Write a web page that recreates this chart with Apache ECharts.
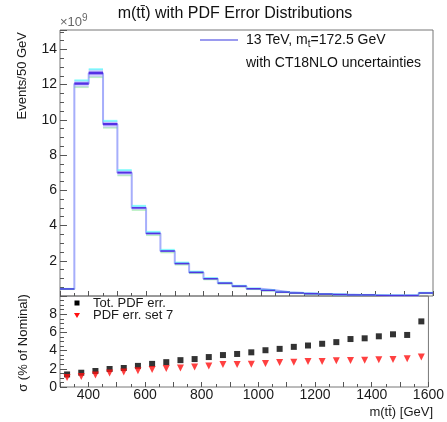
<!DOCTYPE html>
<html>
<head>
<meta charset="utf-8">
<script src="https://cdn.jsdelivr.net/npm/echarts@6.0.0/dist/echarts.min.js"></script>
<style>
  body { margin: 0; background: #fff; }
  #main { width: 447px; height: 422px; }
</style>
</head>
<body>
<div id="main"></div>
<script type="text/javascript">
// bin edges of m(tt) in GeV (50 GeV bins)
var binEdges = [300, 350, 400, 450, 500, 550, 600, 650, 700, 750, 800, 850, 900, 950,
                1000, 1050, 1100, 1150, 1200, 1250, 1300, 1350, 1400, 1450, 1500, 1550, 1600];
var binCenters = [325, 375, 425, 475, 525, 575, 625, 675, 725, 775, 825, 875, 925, 975,
                  1025, 1075, 1125, 1175, 1225, 1275, 1325, 1375, 1425, 1475, 1525, 1575];
// nominal events / 50 GeV, in units of 1e9
var nominal = [0.4, 12.05, 12.65, 9.75, 7.0, 5.0, 3.55, 2.55, 1.84, 1.34, 0.98, 0.73, 0.56, 0.41,
               0.32, 0.22, 0.17, 0.13, 0.11, 0.08, 0.06, 0.06, 0.03, 0.03, 0.03, 0.17];
// sigma in % of nominal
var totPdfErr = [1.38, 1.57, 1.76, 1.98, 2.09, 2.32, 2.54, 2.73, 2.95, 3.07, 3.29, 3.51, 3.63,
                 3.81, 4.04, 4.19, 4.41, 4.56, 4.75, 4.93, 5.27, 5.35, 5.57, 5.79, 5.72, 7.21];
var pdfErrSet7 = [1.05, 1.16, 1.31, 1.53, 1.64, 1.79, 1.91, 2.02, 2.09, 2.2, 2.32, 2.47, 2.47,
                  2.5, 2.58, 2.69, 2.73, 2.8, 2.8, 2.88, 2.92, 2.95, 2.99, 3.03, 3.1, 3.29];
var xLabels = [400, 600, 800, 1000, 1200, 1400, 1600];

var FONT = 'Liberation Sans, Arial, Helvetica, sans-serif';

var myChart = echarts.init(document.getElementById('main'), null, { renderer: 'canvas' });

// step outline of the nominal histogram
var stepData = binEdges.map(function (e, i) {
    return [e, nominal[Math.min(i, nominal.length - 1)]];
});
// per bin: low edge, high edge, nominal, sigma%
var bandData = nominal.map(function (v, i) {
    return [binEdges[i], binEdges[i + 1], v, totPdfErr[i]];
});

function renderBand(params, api) {
    var x0 = api.coord([api.value(0), 0])[0];
    var x1 = api.coord([api.value(1), 0])[0];
    var v = api.value(2), s = api.value(3) / 100;
    var yUp = api.coord([0, v * (1 + s)])[1];
    var yLo = api.coord([0, v * (1 - s)])[1];
    var yIn1 = api.coord([0, v * (1 + 0.4 * s)])[1];
    var yIn2 = api.coord([0, v * (1 - 0.3 * s)])[1];
    var w = x1 - x0;
    var hIn = Math.max(yIn2 - yIn1, 1.5);
    return {
        type: 'group',
        children: [
            { type: 'rect', shape: { x: x0, y: yUp, width: w, height: Math.max(yLo - yUp, 1) },
              style: { fill: 'rgba(160,150,255,0.45)' } },
            { type: 'rect', shape: { x: x0, y: yUp - 1, width: w, height: 2 },
              style: { fill: 'rgba(80,250,250,0.65)' } },
            { type: 'rect', shape: { x: x0, y: yLo - 0.5, width: w, height: 1.5 },
              style: { fill: 'rgba(110,225,130,0.45)' } },
            { type: 'rect', shape: { x: x0, y: (yIn1 + yIn2) / 2 - hIn / 2, width: w, height: hIn },
              style: { fill: 'rgba(75,35,225,0.9)' } }
        ]
    };
}

function txt(x, y, text, size, opts) {
    var st = { text: text, fontSize: size, fontFamily: FONT, fill: '#1a1a1a',
               align: 'left', verticalAlign: 'middle' };
    for (var k in (opts || {})) st[k] = opts[k];
    return st;
}

var tickStyle = { color: '#555', width: 1 };

myChart.setOption({
    animation: false,
    backgroundColor: '#fff',
    textStyle: { fontFamily: FONT },
    grid: [
        { left: 60, right: 14, top: 30, height: 266, show: true, borderColor: '#777', borderWidth: 1 },
        { left: 60, right: 14, top: 296, height: 91, show: true, borderColor: '#777', borderWidth: 1 }
    ],
    xAxis: [
        {
            type: 'value', gridIndex: 0, min: 300, max: 1600, interval: 100,
            axisLine: { show: false },
            axisTick: { inside: true, length: 5, lineStyle: tickStyle },
            minorTick: { show: true, splitNumber: 2, length: 3, lineStyle: tickStyle },
            axisLabel: { show: false },
            splitLine: { show: false }
        },
        {
            type: 'value', gridIndex: 1, min: 300, max: 1600, interval: 100,
            axisLine: { show: false },
            axisTick: { inside: true, length: 5, lineStyle: tickStyle },
            minorTick: { show: true, splitNumber: 2, length: 3, lineStyle: tickStyle },
            axisLabel: {
                margin: 1, fontSize: 14, color: '#1a1a1a', fontFamily: FONT,
                formatter: function (v) { return xLabels.indexOf(v) >= 0 ? String(v) : ''; }
            },
            splitLine: { show: false }
        }
    ],
    yAxis: [
        {
            type: 'value', gridIndex: 0, min: 0, max: 15.1, interval: 2,
            axisLine: { show: false },
            axisTick: { inside: true, length: 7, lineStyle: tickStyle },
            minorTick: { show: true, splitNumber: 4, length: 4, lineStyle: tickStyle },
            axisLabel: {
                margin: 3, fontSize: 14, color: '#1a1a1a', fontFamily: FONT,
                formatter: function (v) { return (v > 0 && v < 15) ? String(v) : ''; }
            },
            splitLine: { show: false }
        },
        {
            type: 'value', gridIndex: 1, min: 0, max: 10, interval: 2,
            axisLine: { show: false },
            axisTick: { inside: true, length: 7, lineStyle: tickStyle },
            minorTick: { show: true, splitNumber: 4, length: 4, lineStyle: tickStyle },
            axisLabel: {
                margin: 3, fontSize: 14, color: '#1a1a1a', fontFamily: FONT,
                formatter: function (v) { return v < 10 ? String(v) : ''; }
            },
            splitLine: { show: false }
        }
    ],
    series: [
        {
            name: 'nominal', type: 'line', xAxisIndex: 0, yAxisIndex: 0,
            step: 'end', data: stepData, symbol: 'none',
            lineStyle: { color: 'rgba(150,160,250,0.85)', width: 2 },
            z: 2
        },
        {
            name: 'band', type: 'custom', xAxisIndex: 0, yAxisIndex: 0,
            data: bandData, renderItem: renderBand, clip: true, z: 3
        },
        {
            name: 'Tot. PDF err.', type: 'scatter', xAxisIndex: 1, yAxisIndex: 1,
            data: binCenters.map(function (c, i) { return [c, totPdfErr[i]]; }),
            symbol: 'rect', symbolSize: 6, itemStyle: { color: '#000' }, z: 4
        },
        {
            name: 'PDF err. set 7', type: 'scatter', xAxisIndex: 1, yAxisIndex: 1,
            data: binCenters.map(function (c, i) { return [c, pdfErrSet7[i]]; }),
            symbol: 'triangle', symbolRotate: 180, symbolSize: 7, itemStyle: { color: '#ff1010' }, z: 4
        }
    ],
    graphic: [
        // title
        { type: 'text', x: 235, y: 14,
          style: txt(0, 0, 'm(tt\u0304) with PDF Error Distributions', 16, { align: 'center', fill: '#111' }) },
        // exponent
        { type: 'text', x: 60, y: 22,
          style: txt(0, 0, '\u00d710{sup|9}', 13, { fill: '#666',
            rich: { sup: { fontSize: 10, fontFamily: FONT, fill: '#666', padding: [0, 0, 8, 0] } } }) },
        // axis titles
        { type: 'text', x: 22, y: 32, rotation: Math.PI / 2,
          style: txt(0, 0, 'Events/50 GeV', 13, { align: 'right' }) },
        { type: 'text', x: 23, y: 343, rotation: Math.PI / 2,
          style: txt(0, 0, '\u03c3 (% of Nominal)', 13, { align: 'center' }) },
        { type: 'text', x: 433, y: 412,
          style: txt(0, 0, 'm(tt\u0304) [GeV]', 13, { align: 'right' }) },
        // top legend
        { type: 'line', shape: { x1: 200, y1: 40, x2: 238, y2: 40 },
          style: { stroke: '#7878ea', lineWidth: 1.5 } },
        { type: 'text', x: 246, y: 40,
          style: txt(0, 0, '13 TeV, m{sub|t}=172.5 GeV', 14, { fill: '#111',
            rich: { sub: { fontSize: 10, fontFamily: FONT, fill: '#111', padding: [9, 0, 0, 0] } } }) },
        { type: 'text', x: 246, y: 63,
          style: txt(0, 0, 'with CT18NLO uncertainties', 14, { fill: '#111' }) },
        // lower legend
        { type: 'rect', shape: { x: 74.5, y: 300.5, width: 5, height: 5 }, style: { fill: '#000' } },
        { type: 'polygon', shape: { points: [[74, 313], [80, 313], [77, 318]] }, style: { fill: '#ff1010' } },
        { type: 'text', x: 93, y: 303, style: txt(0, 0, 'Tot. PDF err.', 13) },
        { type: 'text', x: 93, y: 315.5, style: txt(0, 0, 'PDF err. set 7', 13) }
    ]
});
</script>
</body>
</html>
